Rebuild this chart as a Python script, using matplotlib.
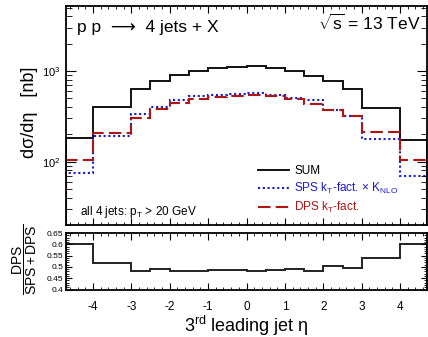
import numpy as np
import matplotlib
matplotlib.use('Agg')
import matplotlib.pyplot as plt
from matplotlib.ticker import MultipleLocator, LogLocator, NullFormatter

plt.rcParams['font.family'] = ['Liberation Sans', 'DejaVu Sans']
plt.rcParams['mathtext.fontset'] = 'custom'
plt.rcParams['mathtext.rm'] = 'Liberation Sans'
plt.rcParams['mathtext.it'] = 'Liberation Sans'
plt.rcParams['mathtext.default'] = 'regular'

# bin edges in eta of the 3rd leading jet
edges = [-4.7, -4, -3, -2.5, -2, -1.5, -1, -0.5, 0, 0.5, 1, 1.5, 2, 2.5, 3, 4, 4.7]

# dsigma/deta [nb]
sum_vals = [184, 402, 638, 781, 896, 1008, 1070, 1117, 1120, 1070, 1008, 880, 777, 630, 388, 175]
sps_vals = [74, 193, 334, 399, 472, 523, 545, 563, 573, 545, 509, 472, 373, 318, 179, 70]
dps_vals = [105, 207, 302, 380, 442, 492, 518, 531, 536, 523, 489, 433, 373, 316, 210, 104]

# DPS / (SPS + DPS)
ratio_vals = [0.600, 0.518, 0.481, 0.489, 0.484, 0.480, 0.487, 0.486, 0.481, 0.486,
              0.490, 0.481, 0.505, 0.495, 0.539, 0.601]

xticks = [-4, -3, -2, -1, 0, 1, 2, 3, 4]
ratio_ticks = [0.4, 0.45, 0.5, 0.55, 0.6, 0.65]

blue = '#1a1ad0'
red = '#b01515'

fig = plt.figure(figsize=(4.28, 3.37), dpi=100)
ax = fig.add_axes([66/428, 1-225/337, 361/428, 219/337])
ax2 = fig.add_axes([66/428, 1-289.5/337, 361/428, 56.5/337])

# main panel
ax.stairs(sum_vals, edges, color='#111111', lw=1.4, label='SUM')
ax.stairs(sps_vals, edges, color=blue, lw=1.5, linestyle=(0, (1, 1.3)),
          label=r'SPS k$_T$-fact. × K$_{NLO}$')
ax.stairs(dps_vals, edges, color=red, lw=1.5, linestyle=(0, (6, 2.5)),
          label=r'DPS k$_T$-fact.')

ax.set_yscale('log')
ax.set_xlim(-4.7, 4.7)
ax.set_ylim(20, 5200)
ax.xaxis.set_major_locator(MultipleLocator(1))
ax.xaxis.set_minor_locator(MultipleLocator(0.2))
ax.yaxis.set_major_locator(LogLocator(base=10))
ax.yaxis.set_minor_locator(LogLocator(base=10, subs=np.arange(2, 10)))
ax.yaxis.set_minor_formatter(NullFormatter())
ax.tick_params(axis='x', which='both', direction='in', top=True, bottom=True,
               labelbottom=False)
ax.tick_params(axis='x', which='major', length=5)
ax.tick_params(axis='x', which='minor', length=2.5)
ax.tick_params(axis='y', which='both', direction='in', left=True, right=True,
               labelsize=8, pad=4)
ax.tick_params(axis='y', which='major', length=7.5)
ax.tick_params(axis='y', which='minor', length=4)
for s in ax.spines.values():
    s.set_linewidth(1.3)

ax.text(0.03, 0.881, 'p p  ⟶  4 jets + X', transform=ax.transAxes,
        fontsize=12.5, va='baseline', ha='left')
ax.text(0.983, 0.89, r'$\sqrt{s}$ = 13 TeV', transform=ax.transAxes,
        fontsize=12.5, va='baseline', ha='right')
ax.text(0.039, 0.046, r'all 4 jets: p$_T$ > 20 GeV', transform=ax.transAxes,
        fontsize=8.5, va='baseline', ha='left')

leg = ax.legend(loc='upper left', bbox_to_anchor=(0.532, 0.275), frameon=False,
                fontsize=8.5, handlelength=2.6, handletextpad=0.45,
                labelspacing=0.35, borderpad=0, borderaxespad=0,
                labelcolor=['black', blue, red])

fig.text(30/428, 1-112/337, 'dσ/dη   [nb]', rotation=90,
         fontsize=13, ha='center', va='center')

# ratio panel
ax2.stairs(ratio_vals, edges, color='#222222', lw=1.4)
ax2.set_xlim(-4.7, 4.7)
ax2.set_ylim(0.4, 0.65)
ax2.set_xticks(xticks)
ax2.set_xticklabels([str(t) for t in xticks])
ax2.xaxis.set_minor_locator(MultipleLocator(0.2))
ax2.set_yticks(ratio_ticks)
ax2.set_yticklabels(['0.4', '0.45', '0.5', '0.55', '0.6', '0.65'])
ax2.yaxis.set_minor_locator(MultipleLocator(0.01))
ax2.tick_params(axis='x', which='both', direction='in', top=True, bottom=True,
                labelsize=8.5, pad=8)
ax2.tick_params(axis='x', which='major', length=5)
ax2.tick_params(axis='x', which='minor', length=2.5)
ax2.tick_params(axis='y', which='both', direction='in', left=True, right=True,
                labelsize=6, pad=2)
ax2.tick_params(axis='y', which='major', length=4)
ax2.tick_params(axis='y', which='minor', length=2)
for s in ax2.spines.values():
    s.set_linewidth(1.3)

fig.text(25/428, 1-259/337, r'$\dfrac{DPS}{SPS+DPS}$', rotation=90,
         fontsize=10, ha='center', va='center')
fig.text(246.5/428, 1-332/337, r'3$^{rd}$ leading jet η', fontsize=13,
         ha='center', va='baseline')

fig.savefig('out.png', dpi=100)
